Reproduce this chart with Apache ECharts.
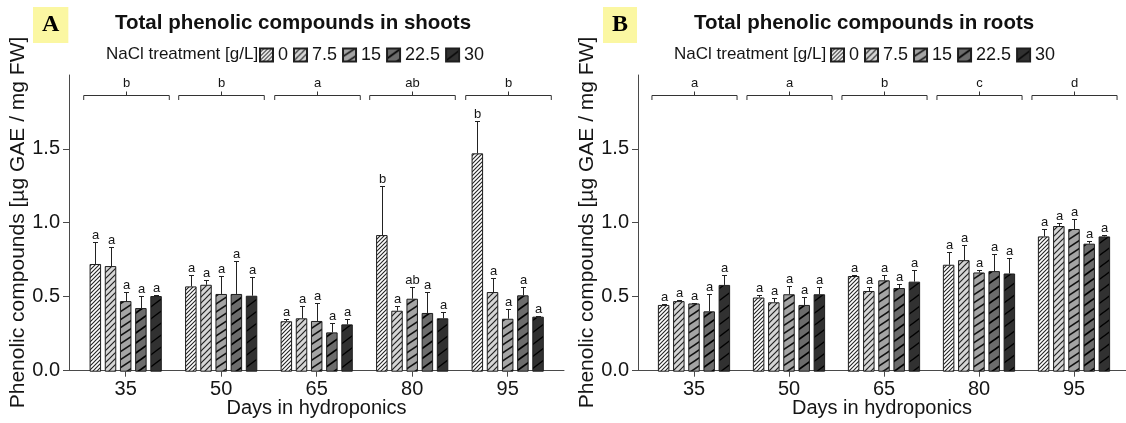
<!DOCTYPE html>
<html>
<head>
<meta charset="utf-8">
<script src="https://cdn.jsdelivr.net/npm/echarts@6/dist/echarts.min.js"></script>
<style>
html,body{margin:0;padding:0;background:#fff;}
#chart{width:1126px;height:423px;}
</style>
</head>
<body>
<div id="chart"></div>
<script>
// ---------- data ----------
const days = ['35', '50', '65', '80', '95'];
const naclLevels = ['0', '7.5', '15', '22.5', '30'];
const yTicks = [0, 0.5, 1.0, 1.5];

// rows = NaCl level (0, 7.5, 15, 22.5, 30); columns = day
const shootsMean = [
  [0.726, 0.575, 0.340, 0.921, 1.472],
  [0.712, 0.586, 0.360, 0.411, 0.537],
  [0.476, 0.524, 0.342, 0.492, 0.357],
  [0.429, 0.524, 0.265, 0.396, 0.515],
  [0.510, 0.512, 0.319, 0.360, 0.371]
];
const shootsSd = [
  [0.146, 0.074, 0.013, 0.330, 0.215],
  [0.126, 0.032, 0.083, 0.034, 0.094],
  [0.059, 0.123, 0.119, 0.077, 0.065],
  [0.079, 0.220, 0.063, 0.141, 0.054],
  [0.009, 0.124, 0.034, 0.040, 0.006]
];
const shootsLetters = [
  ['a', 'a', 'a', 'b', 'b'],
  ['a', 'a', 'a', 'a', 'a'],
  ['a', 'a', 'a', 'ab', 'a'],
  ['a', 'a', 'a', 'a', 'a'],
  ['a', 'a', 'a', 'a', 'a']
];
const shootsDayLetters = ['b', 'b', 'a', 'ab', 'b'];

const rootsMean = [
  [0.450, 0.500, 0.645, 0.721, 0.912],
  [0.476, 0.468, 0.544, 0.752, 0.982],
  [0.460, 0.522, 0.616, 0.669, 0.962],
  [0.407, 0.450, 0.564, 0.678, 0.863],
  [0.585, 0.522, 0.607, 0.662, 0.912]
];
const rootsSd = [
  [0.006, 0.015, 0.009, 0.089, 0.050],
  [0.005, 0.029, 0.029, 0.100, 0.023],
  [0.005, 0.057, 0.036, 0.018, 0.068],
  [0.117, 0.056, 0.025, 0.115, 0.015],
  [0.065, 0.049, 0.080, 0.106, 0.010]
];
const rootsLetters = [
  ['a', 'a', 'a', 'a', 'a'],
  ['a', 'a', 'a', 'a', 'a'],
  ['a', 'a', 'a', 'a', 'a'],
  ['a', 'a', 'a', 'a', 'a'],
  ['a', 'a', 'a', 'a', 'a']
];
const rootsDayLetters = ['a', 'a', 'b', 'c', 'd'];

// ---------- styles ----------
const FONT = '"Liberation Sans", Arial, sans-serif';
const TXT = '#151515';
const AX = '#4a4a4a';
const BAR_W = 11.5;
const BAR_GAP = 0.32;
const PITCH = BAR_W * (1 + BAR_GAP);

function hatch(bg, w, h, lw, color) {
  const c = document.createElement('canvas');
  c.width = w; c.height = h;
  const g = c.getContext('2d');
  g.fillStyle = bg; g.fillRect(0, 0, w, h);
  g.strokeStyle = color; g.lineWidth = lw;
  for (const dy of [-h, 0, h]) {
    g.beginPath();
    g.moveTo(-w, 2 * h + dy);
    g.lineTo(2 * w, -h + dy);
    g.stroke();
  }
  return { image: c, repeat: 'repeat' };
}
const fills = [
  hatch('#ffffff', 4, 4, 1.1, '#222'),
  hatch('#d6d6d6', 6, 6, 1.2, '#222'),
  hatch('#a4a4a4', 12, 8, 1.5, '#111'),
  hatch('#6c6c6c', 14, 10, 1.8, '#000'),
  hatch('#313131', 16, 12, 1.4, '#000')
];

const chart = echarts.init(document.getElementById('chart'), null, { renderer: 'canvas' });

function fullAxisX(grid) {
  return {
    gridIndex: grid, type: 'value', min: 0, max: 1,
    axisLine: { show: true, lineStyle: { color: AX, width: 1 } },
    axisTick: { show: false }, axisLabel: { show: false }, splitLine: { show: false },
    name: 'Days in hydroponics', nameLocation: 'middle', nameGap: 28,
    nameTextStyle: { fontFamily: FONT, fontSize: 20, color: TXT }
  };
}
function catAxisX(grid) {
  return {
    gridIndex: grid, type: 'category', data: days,
    axisLine: { show: false },
    axisTick: { show: true, alignWithLabel: true, length: 5, lineStyle: { color: AX } },
    axisLabel: { fontFamily: FONT, fontSize: 20, color: TXT, margin: 8 },
    splitLine: { show: false }
  };
}
function fullAxisY(grid) {
  return {
    gridIndex: grid, type: 'value', min: 0, max: 2, interval: 0.5,
    axisLine: { show: true, lineStyle: { color: AX, width: 1 } },
    axisTick: { show: true, length: 6, lineStyle: { color: AX }, customValues: yTicks },
    axisLabel: { fontFamily: FONT, fontSize: 20, color: TXT, margin: 9, customValues: yTicks,
      formatter: v => (v >= 2 ? '' : v.toFixed(1)) },
    splitLine: { show: false },
    name: 'Phenolic compounds [µg GAE / mg FW]', nameLocation: 'middle', nameGap: 37,
    nameTextStyle: { fontFamily: FONT, fontSize: 21, color: TXT }
  };
}
function hiddenY(grid) {
  return { gridIndex: grid, type: 'value', min: 0, max: 2, show: false, splitLine: { show: false } };
}

function barSeries(means, axis) {
  return means.map((row, k) => ({
    type: 'bar', name: naclLevels[k], xAxisIndex: axis, yAxisIndex: axis,
    data: row, barWidth: BAR_W, barGap: (BAR_GAP * 100) + '%',
    itemStyle: { color: fills[k], borderColor: '#1e1e1e', borderWidth: 1 },
    emphasis: { disabled: true }, z: 2
  }));
}

function errSeries(means, sds, letters, axis) {
  const data = [];
  const labels = [];
  means.forEach((row, k) => row.forEach((m, i) => {
    data.push([i, k, m, sds[k][i]]);
    labels.push(letters[k][i]);
  }));
  return {
    type: 'custom', xAxisIndex: axis, yAxisIndex: axis, z: 5, silent: true,
    encode: { x: 0, y: 2 },
    data: data,
    renderItem: (params, api) => {
      const cat = api.value(0), k = api.value(1), m = api.value(2), sd = api.value(3);
      const base = api.coord([cat, m]);
      const top = api.coord([cat, m + sd]);
      const x = Math.round(base[0] + (k - 2) * PITCH) + 0.5;
      const ty = Math.round(top[1]) + 0.5;
      const st = { stroke: '#222', lineWidth: 1 };
      return {
        type: 'group', children: [
          { type: 'line', shape: { x1: x, y1: base[1], x2: x, y2: ty }, style: st },
          { type: 'line', shape: { x1: x - 2.5, y1: ty, x2: x + 2.5, y2: ty }, style: st },
          { type: 'text', x: x, y: ty - 1,
            style: { text: labels[params.dataIndex], x: 0, y: 0, align: 'center', verticalAlign: 'bottom',
                     fill: TXT, font: '13px ' + FONT } }
        ]
      };
    }
  };
}

function bracketSeries(dayLetters, axis) {
  return {
    type: 'custom', xAxisIndex: axis, yAxisIndex: axis, z: 5, silent: true,
    encode: { x: 0, y: 1 },
    data: dayLetters.map((l, i) => [i, 1.865]),
    renderItem: (params, api) => {
      const c = api.coord([api.value(0), api.value(1)]);
      const half = api.size([1, 0])[0] * 0.448;
      const x = Math.round(c[0]) + 0.5, y = Math.round(c[1]) + 0.5;
      const st = { stroke: '#333', lineWidth: 1, fill: null };
      return {
        type: 'group', children: [
          { type: 'polyline', shape: { points: [[x - half, y + 4.5], [x - half, y], [x + half, y], [x + half, y + 4.5]] }, style: st },
          { type: 'line', shape: { x1: x, y1: y, x2: x, y2: y - 4 }, style: st },
          { type: 'text', x: x, y: y - 6,
            style: { text: dayLetters[params.dataIndex], x: 0, y: 0, align: 'center', verticalAlign: 'bottom',
                     fill: TXT, font: '13px ' + FONT } }
        ]
      };
    }
  };
}

const legendBase = {
  data: naclLevels, orient: 'horizontal', top: 46, padding: 0,
  itemWidth: 13, itemHeight: 13, itemGap: 5, icon: 'rect', selectedMode: false,
  textStyle: { fontFamily: FONT, fontSize: 18, color: TXT }
};

const titleStyle = { fontFamily: FONT, fontSize: 20.5, fontWeight: 'bold', color: '#111' };
const subStyle = { fontFamily: FONT, fontSize: 17, fontWeight: 'normal', color: TXT };
const tagStyle = { fontFamily: '"Liberation Serif", "Times New Roman", serif', fontSize: 24, fontWeight: 'bold', color: '#000' };

const option = {
  animation: false,
  backgroundColor: '#ffffff',
  title: [
    { text: 'Total phenolic compounds in shoots', left: 115, top: 13, padding: 0, textStyle: titleStyle },
    { text: 'Total phenolic compounds in roots', left: 694, top: 13, padding: 0, textStyle: titleStyle },
    { text: 'NaCl treatment [g/L]', left: 106, top: 45.5, padding: 0, textStyle: subStyle },
    { text: 'NaCl treatment [g/L]', left: 674, top: 45.5, padding: 0, textStyle: subStyle },
    { text: 'A', left: 33, top: 7, padding: [6, 9, 6, 9], backgroundColor: '#fbf7a2', textStyle: tagStyle },
    { text: 'B', left: 603, top: 7, padding: [6, 9, 6, 9], backgroundColor: '#fbf7a2', textStyle: tagStyle }
  ],
  legend: [
    Object.assign({}, legendBase, { left: 259 }),
    Object.assign({}, legendBase, { left: 830 })
  ],
  grid: [
    { left: 69, top: 75, width: 495, height: 296.7 },
    { left: 77.95, top: 75, width: 477.5, height: 296.7 },
    { left: 638, top: 75, width: 488, height: 296.7 },
    { left: 646.5, top: 75, width: 475, height: 296.7 }
  ],
  xAxis: [fullAxisX(0), catAxisX(1), fullAxisX(2), catAxisX(3)],
  yAxis: [fullAxisY(0), hiddenY(1), fullAxisY(2), hiddenY(3)],
  series: [
    ...barSeries(shootsMean, 1),
    errSeries(shootsMean, shootsSd, shootsLetters, 1),
    bracketSeries(shootsDayLetters, 1),
    ...barSeries(rootsMean, 3),
    errSeries(rootsMean, rootsSd, rootsLetters, 3),
    bracketSeries(rootsDayLetters, 3)
  ]
};
chart.setOption(option);
</script>
</body>
</html>
